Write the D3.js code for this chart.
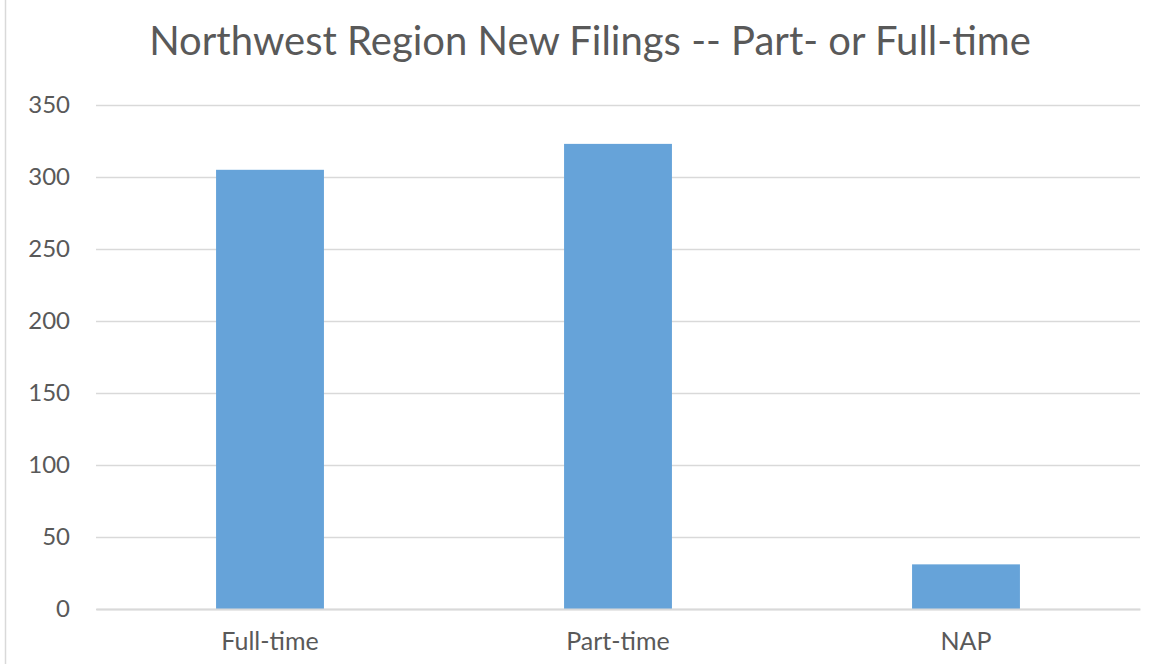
<!DOCTYPE html>
<html><head><meta charset="utf-8">
<script src="https://cdn.jsdelivr.net/npm/d3@7"></script>
<style>body{margin:0;background:#fff}svg{display:block}</style>
</head><body>
<svg id="c" width="1166" height="664"></svg>
<script>
const categories = ["Full-time", "Part-time", "NAP"];
const values = [305, 323, 31];
const yTicks = [0, 50, 100, 150, 200, 250, 300, 350];
const title = "Northwest Region New Filings -- Part- or Full-time";

const svg = d3.select("#c");
const W = 1166, H = 664;
const m = {left: 96, right: 26, top: 105, bottom: 55};
const font = "Lato, 'Open Sans', sans-serif";

svg.append("rect").attr("width", W).attr("height", H).attr("fill", "#fff");
svg.append("line").attr("x1", 5.5).attr("x2", 5.5).attr("y1", 0).attr("y2", H)
  .attr("stroke", "#d9d9d9").attr("stroke-width", 1.5);

const x = d3.scaleBand().domain(categories).range([m.left, W - m.right]).padding(0);
const y = d3.scaleLinear().domain([0, 350]).range([H - m.bottom, m.top]);

const yAxis = d3.axisLeft(y).tickValues(yTicks).tickSize(-(W - m.left - m.right)).tickPadding(26);
const gy = svg.append("g").attr("transform", `translate(${m.left},0)`).call(yAxis);
gy.select(".domain").remove();
gy.selectAll(".tick line").attr("stroke", "#d9d9d9").attr("stroke-width", 1.5);
gy.selectAll(".tick text").attr("fill", "#595959").style("font-family", font).style("font-size", "24px");

const barW = x.bandwidth() * 0.31;
svg.append("g").selectAll("rect").data(values).join("rect")
  .attr("x", (d, i) => x(categories[i]) + x.bandwidth() / 2 - barW / 2)
  .attr("width", barW)
  .attr("y", d => y(d))
  .attr("height", d => y(0) - y(d))
  .attr("fill", "#66a3d9");

const xAxis = d3.axisBottom(x).tickSize(0).tickPadding(23);
const gx = svg.append("g").attr("transform", `translate(0,${y(0)})`).call(xAxis);
gx.select(".domain").attr("stroke", "#d9d9d9").attr("stroke-width", 2);
gx.selectAll(".tick text").attr("fill", "#595959").style("font-family", font).style("font-size", "25px");

svg.append("text").attr("x", 590).attr("y", 55).attr("text-anchor", "middle")
  .attr("fill", "#595959").style("font-family", font).style("font-size", "40px")
  .text(title);
</script>
</body></html>
